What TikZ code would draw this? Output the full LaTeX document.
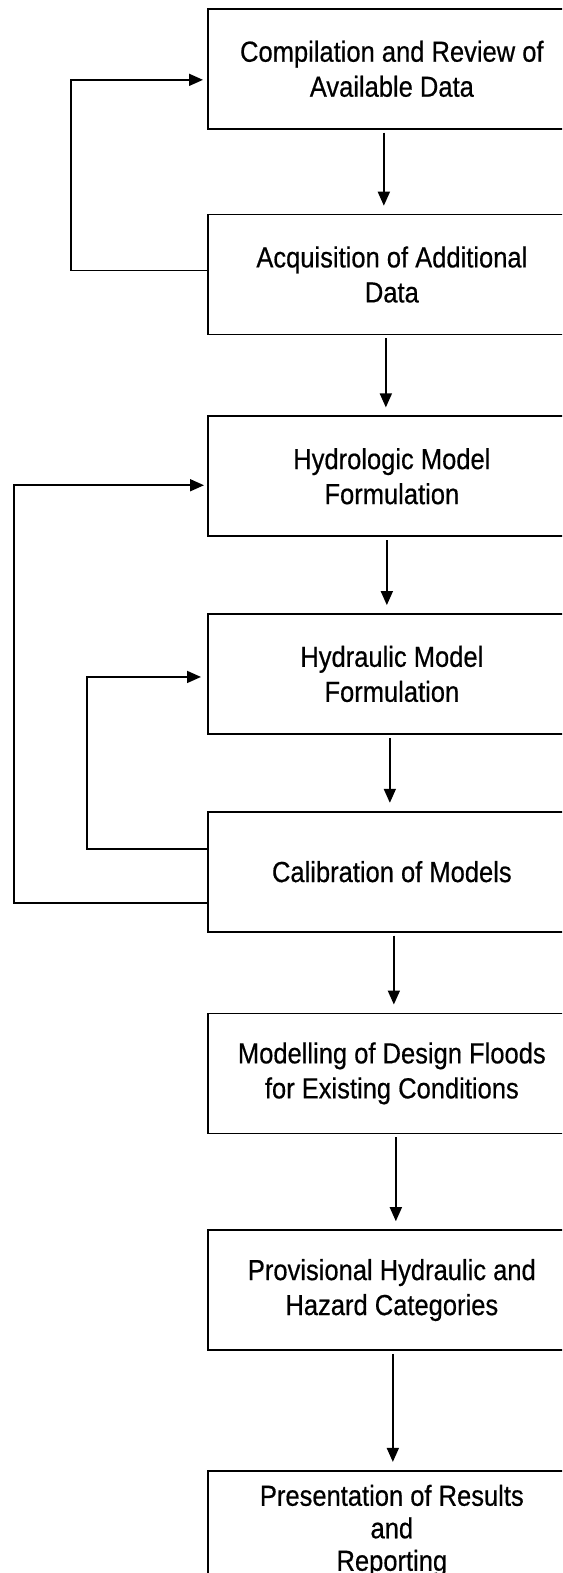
\documentclass[tikz,border=0pt]{standalone}
\usepackage{fontspec}
\setmainfont{Liberation Sans}[FakeStretch=0.88, FakeBold=0.5]
\usepackage{tikz}
\usetikzlibrary{positioning,arrows.meta}

\begin{document}
\begin{tikzpicture}[x=1pt, y=-1pt, ->, >={Triangle[length=14pt,width=12pt]}, line width=1.7pt, shorten >=8pt, shorten <=3pt, step box/.style={rectangle, draw, -, shorten >=0pt, shorten <=0pt, minimum width=368pt, minimum height=120pt, align=center, font=\fontsize{29}{35}\selectfont}]

  \useasboundingbox (0,0) rectangle (562,1573);
  \clip (0,0) rectangle (562,1573);

  % Define nodes
  \node[step box, anchor=north west] (s1) at (207,8) {Compilation and Review of\\Available Data};
  \node[step box] (s2) [below=84pt of s1] {Acquisition of Additional\\Data};
  \node[step box] (s3) [below=80pt of s2] {Hydrologic Model\\Formulation};
  \node[step box] (s4) [below=76pt of s3] {Hydraulic Model\\Formulation};
  \node[step box] (s5) [below=76pt of s4] {Calibration of Models};
  \node[step box] (s6) [below=80pt of s5] {Modelling of Design Floods\\for Existing Conditions};
  \node[step box] (s7) [below=95pt of s6] {Provisional Hydraulic and\\Hazard Categories};
  \node[step box, font=\fontsize{29}{32.5}\selectfont] (s8) [below=119pt of s7] {Presentation of Results\\and\\Reporting};

  % Define edges down the chain
  \path[->]
    ([xshift=-8pt]s1.south) edge ([xshift=-8pt]s2.north)
    ([xshift=-6pt]s2.south) edge ([xshift=-6pt]s3.north)
    ([xshift=-5pt]s3.south) edge ([xshift=-5pt]s4.north)
    ([xshift=-2pt]s4.south) edge ([xshift=-2pt]s5.north)
    ([xshift=2pt]s5.south) edge ([xshift=2pt]s6.north)
    ([xshift=4pt]s6.south) edge ([xshift=4pt]s7.north)
    ([xshift=1pt]s7.south) edge ([xshift=1pt]s8.north);

  % Feedback loops
  \draw[shorten <=0pt, shorten >=4pt] ([yshift=4pt]s2.west) -- ++(-136,0) |- ([yshift=-11pt]s1.west);
  \draw[shorten <=0pt, shorten >=3pt] ([yshift=-31pt]s5.west) -- ++(-193,0) |- ([yshift=-9pt]s3.west);
  \draw[shorten <=0pt, shorten >=6pt] ([yshift=23pt]s5.west) -- ++(-120,0) |- ([yshift=-3pt]s4.west);
\end{tikzpicture}
\end{document}
